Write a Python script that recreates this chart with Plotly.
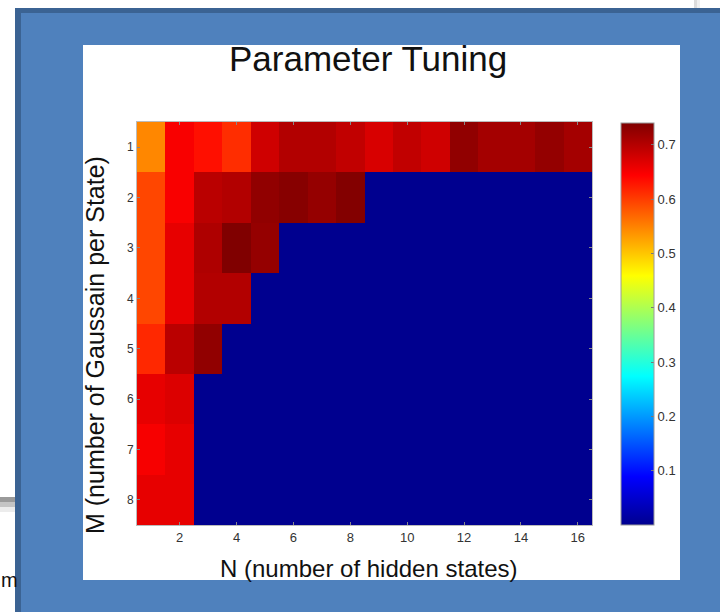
import plotly.graph_objects as go

# ---- data ----
n_states = list(range(1, 17))          # N (number of hidden states)
m_gauss = list(range(1, 9))            # M (number of Gaussian per state)

row_m1 = [0.546, 0.648, 0.633, 0.611, 0.680, 0.702, 0.702, 0.691,
          0.673, 0.691, 0.680, 0.727, 0.713, 0.713, 0.725, 0.713]
row_m2 = [0.593, 0.648, 0.696, 0.702, 0.727, 0.735, 0.724, 0.738,
          0, 0, 0, 0, 0, 0, 0, 0]
row_m3 = [0.593, 0.662, 0.705, 0.740, 0.724, 0, 0, 0,
          0, 0, 0, 0, 0, 0, 0, 0]
row_m4 = [0.593, 0.662, 0.702, 0.702, 0, 0, 0, 0,
          0, 0, 0, 0, 0, 0, 0, 0]
row_m5 = [0.615, 0.696, 0.727, 0, 0, 0, 0, 0,
          0, 0, 0, 0, 0, 0, 0, 0]
row_m6 = [0.662, 0.670, 0, 0, 0, 0, 0, 0,
          0, 0, 0, 0, 0, 0, 0, 0]
row_m7 = [0.650, 0.662, 0, 0, 0, 0, 0, 0,
          0, 0, 0, 0, 0, 0, 0, 0]
row_m8 = [0.662, 0.662, 0, 0, 0, 0, 0, 0,
          0, 0, 0, 0, 0, 0, 0, 0]
accuracy = [row_m1, row_m2, row_m3, row_m4, row_m5, row_m6, row_m7, row_m8]

x_ticks = [2, 4, 6, 8, 10, 12, 14, 16]
y_ticks = [1, 2, 3, 4, 5, 6, 7, 8]
cbar_ticks = [0.1, 0.2, 0.3, 0.4, 0.5, 0.6, 0.7]

# ---- styling ----
W, H = 720, 612
FONT = "Liberation Sans, Arial, sans-serif"
jet = [[0.0, "rgb(0,0,143)"], [0.12, "rgb(0,0,255)"], [0.37, "rgb(0,255,255)"],
       [0.62, "rgb(255,255,0)"], [0.87, "rgb(255,0,0)"], [1.0, "rgb(128,0,0)"]]


def px(x):
    return x / W


def py(y):
    return 1 - y / H


def rect(x0, y0, x1, y1, color, layer="below"):
    return dict(type="rect", xref="paper", yref="paper",
                x0=px(x0), x1=px(x1), y0=py(y1), y1=py(y0),
                fillcolor=color, line=dict(width=0), layer=layer)


fig = go.Figure()
fig.add_trace(go.Heatmap(
    z=accuracy, x=n_states, y=m_gauss,
    colorscale=jet, zmin=0, zmax=0.74,
    hoverinfo="skip",
    colorbar=dict(
        x=px(621), xanchor="left", y=py(324), yanchor="middle",
        thickness=33, thicknessmode="pixels",
        len=402 / H, lenmode="fraction",
        xpad=0, ypad=0,
        outlinecolor="#9a9a9a", outlinewidth=1,
        tickvals=cbar_ticks, ticks="inside", ticklen=3, tickcolor="#777",
        tickfont=dict(family=FONT, size=13, color="#333"),
    ),
))

shapes = [
    rect(15, 8, 720, 612, "#4F81BD"),
    rect(15, 8, 720, 13, "#3B6393"),
    rect(15, 8, 21, 612, "#3B6393"),
    rect(83, 45, 680, 580, "#FFFFFF"),
    rect(0, 497, 15, 502, "#9a9a9a"),
    rect(0, 502, 15, 507, "#c4c4c4"),
    rect(0, 507, 15, 512, "#ececec"),
    rect(694, 0, 697, 8, "#dcdcdc"),
    rect(697, 0, 700, 8, "#f0f0f0"),
]

annotations = [
    dict(text="Parameter Tuning", x=px(368), y=py(59), xref="paper", yref="paper",
         showarrow=False, xanchor="center", yanchor="middle",
         font=dict(family=FONT, size=35, color="#111")),
    dict(text="N (number of hidden states)", x=px(369), y=py(568), xref="paper", yref="paper",
         showarrow=False, xanchor="center", yanchor="middle",
         font=dict(family=FONT, size=24, color="#111")),
    dict(text="M (number of Gaussain per State)", x=px(95), y=py(345), xref="paper", yref="paper",
         showarrow=False, xanchor="center", yanchor="middle", textangle=-90,
         font=dict(family=FONT, size=25, color="#111")),
    dict(text="m", x=px(0), y=py(580), xref="paper", yref="paper",
         showarrow=False, xanchor="left", yanchor="middle", borderpad=0,
         font=dict(family=FONT, size=20, color="#111")),
]

fig.update_layout(
    width=W, height=H,
    margin=dict(l=0, r=0, t=0, b=0),
    paper_bgcolor="white", plot_bgcolor="white",
    shapes=shapes, annotations=annotations,
    showlegend=False,
    xaxis=dict(domain=[px(137), px(592)], range=[0.5, 16.5],
               tickvals=x_ticks, ticks="inside", ticklen=3, tickcolor="#888",
               showline=True, linecolor="#bbb", linewidth=1, mirror="ticks",
               showgrid=False, zeroline=False,
               tickfont=dict(family=FONT, size=13, color="#333")),
    yaxis=dict(domain=[py(525), py(122)], range=[8.5, 0.5],
               tickvals=y_ticks, ticks="inside", ticklen=3, tickcolor="#888",
               showline=True, linecolor="#bbb", linewidth=1, mirror="ticks",
               showgrid=False, zeroline=False,
               tickfont=dict(family=FONT, size=12, color="#333")),
)

fig.write_html("out.html",
               config={"displayModeBar": False},
               post_script="document.body.style.margin='0';document.body.style.overflow='hidden';")
